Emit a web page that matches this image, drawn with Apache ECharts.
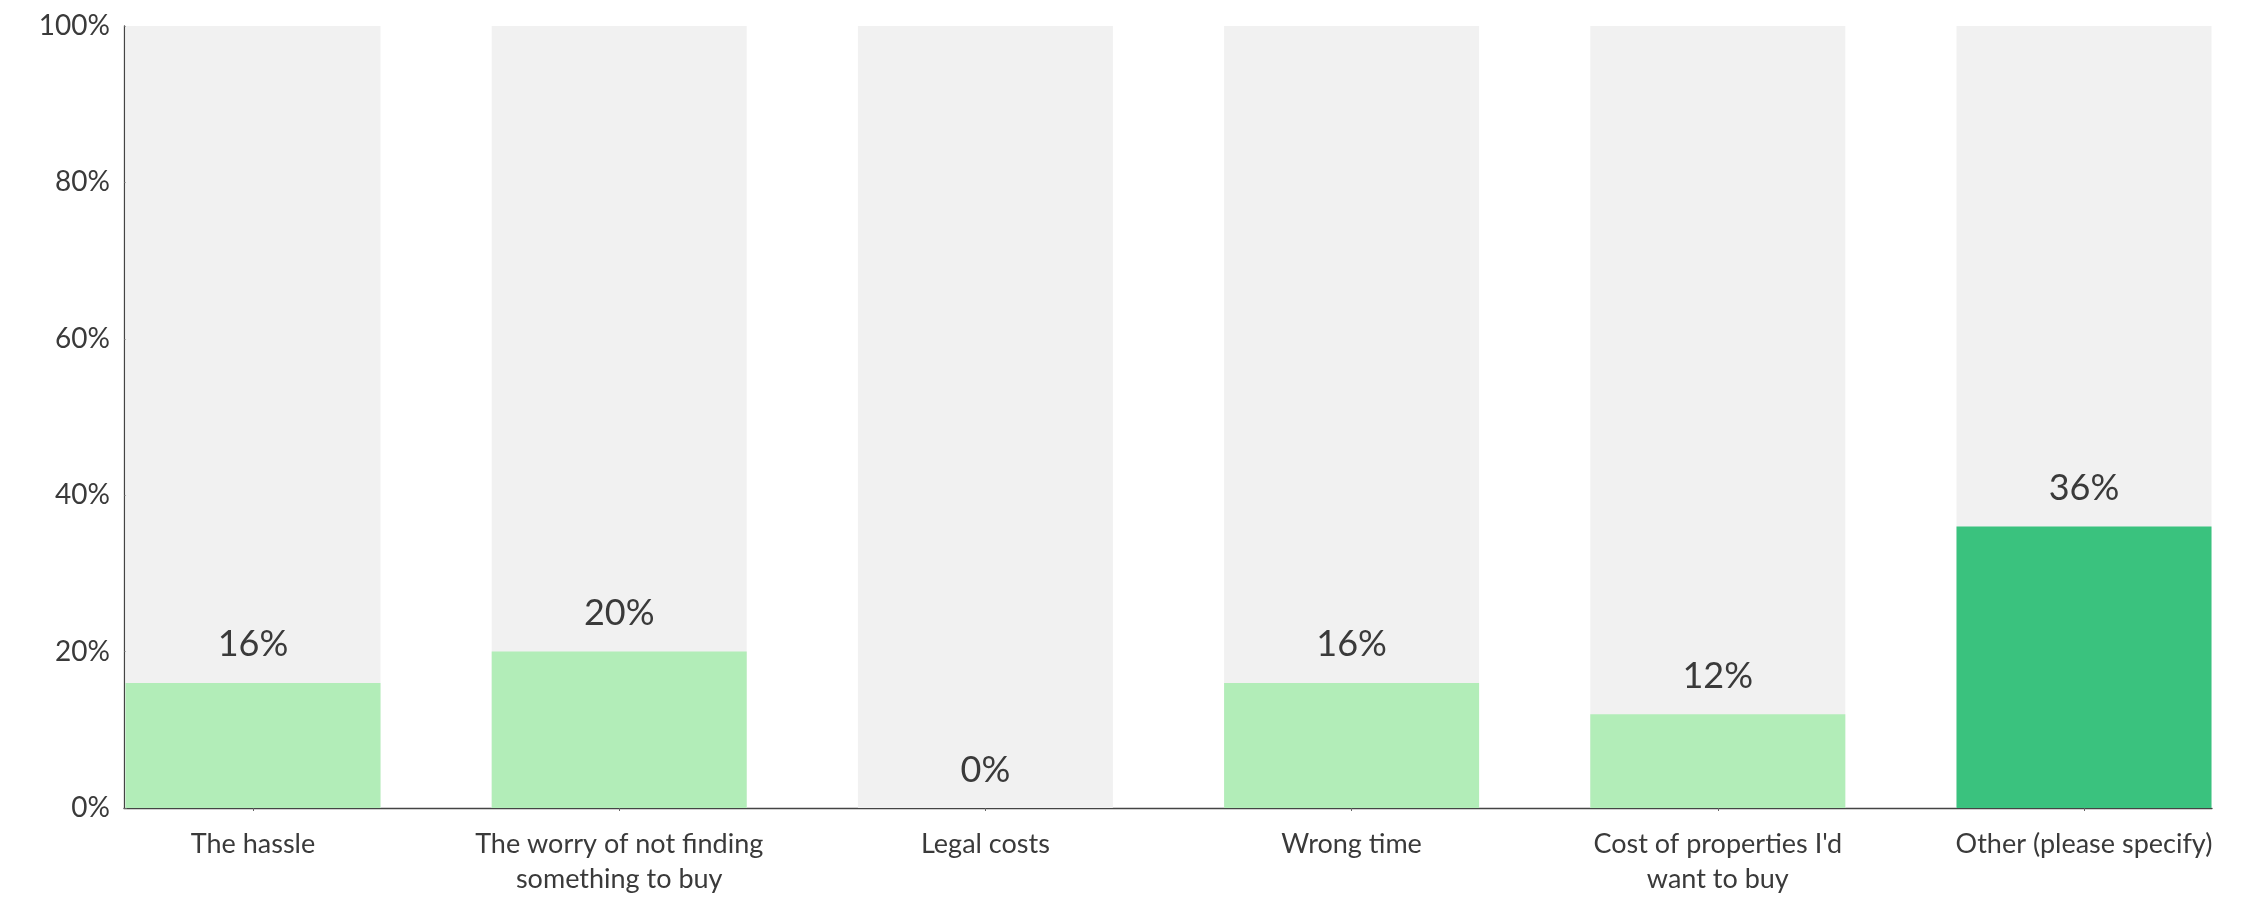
<!DOCTYPE html>
<html>
<head>
<meta charset="utf-8">
<script src="https://cdn.jsdelivr.net/npm/echarts@6/dist/echarts.min.js"></script>
<style>
  html, body { margin: 0; padding: 0; background: #ffffff; }
  #chart { width: 2255px; height: 899px; }
</style>
</head>
<body>
<div id="chart"></div>
<script>
// Survey answers: share of respondents per reason (percent)
const categories = [
  'The hassle',
  'The worry of not finding\nsomething to buy',
  'Legal costs',
  'Wrong time',
  "Cost of properties I'd\nwant to buy",
  'Other (please specify)'
];
const shares = [16, 20, 0, 16, 12, 36];
const yTicks = [0, 20, 40, 60, 80, 100];

const FONT = 'Lato, "Open Sans", sans-serif';
const TEXT = '#3a3a3a';
const LIGHT = '#b2edb8';
const DARK = '#3ac27e';

const maxShare = Math.max(...shares);
const barData = shares.map(v => ({
  value: v,
  itemStyle: { color: v === maxShare ? DARK : LIGHT }
}));

const chart = echarts.init(document.getElementById('chart'), null, { renderer: 'canvas' });
chart.setOption({
  animation: false,
  backgroundColor: '#ffffff',
  grid: [
    // plot grid: category positions run from the first to the last bar centre
    { left: 253, right: 171, top: 26, bottom: 91 },
    // frame grid: carries the full-width baseline
    { left: 124, right: 43, top: 26, bottom: 91 }
  ],
  xAxis: [
    {
      type: 'category',
      gridIndex: 0,
      data: categories,
      boundaryGap: false,
      axisLine: { show: false },
      axisTick: { show: true, length: 3, lineStyle: { color: '#666' } },
      axisLabel: {
        color: TEXT, fontFamily: FONT, fontSize: 27, lineHeight: 35,
        margin: 19, interval: 0
      },
      splitLine: { show: false }
    },
    {
      type: 'value',
      gridIndex: 1,
      min: 0, max: 1,
      axisLine: { show: true, lineStyle: { color: '#444', width: 1.3 } },
      axisTick: { show: false },
      axisLabel: { show: false },
      splitLine: { show: false }
    }
  ],
  yAxis: [
    {
      type: 'value',
      gridIndex: 0,
      min: yTicks[0],
      max: yTicks[yTicks.length - 1],
      interval: yTicks[1] - yTicks[0],
      offset: 129,
      axisLine: { show: true, lineStyle: { color: '#444', width: 1.3 } },
      axisTick: { show: true, inside: true, length: 3, lineStyle: { color: '#666' } },
      axisLabel: {
        color: TEXT, fontFamily: FONT, fontSize: 28, margin: 14,
        formatter: '{value}%'
      },
      splitLine: { show: false }
    },
    {
      type: 'value',
      gridIndex: 1,
      min: 0, max: 1,
      show: false
    }
  ],
  series: [
    {
      type: 'bar',
      xAxisIndex: 0,
      yAxisIndex: 0,
      data: barData,
      barWidth: 255,
      showBackground: true,
      backgroundStyle: { color: '#f1f1f1' },
      label: {
        show: true,
        position: 'top',
        distance: 20,
        color: TEXT,
        fontFamily: FONT,
        fontSize: 36,
        formatter: p => p.value + '%'
      }
    }
  ]
});
</script>
</body>
</html>
